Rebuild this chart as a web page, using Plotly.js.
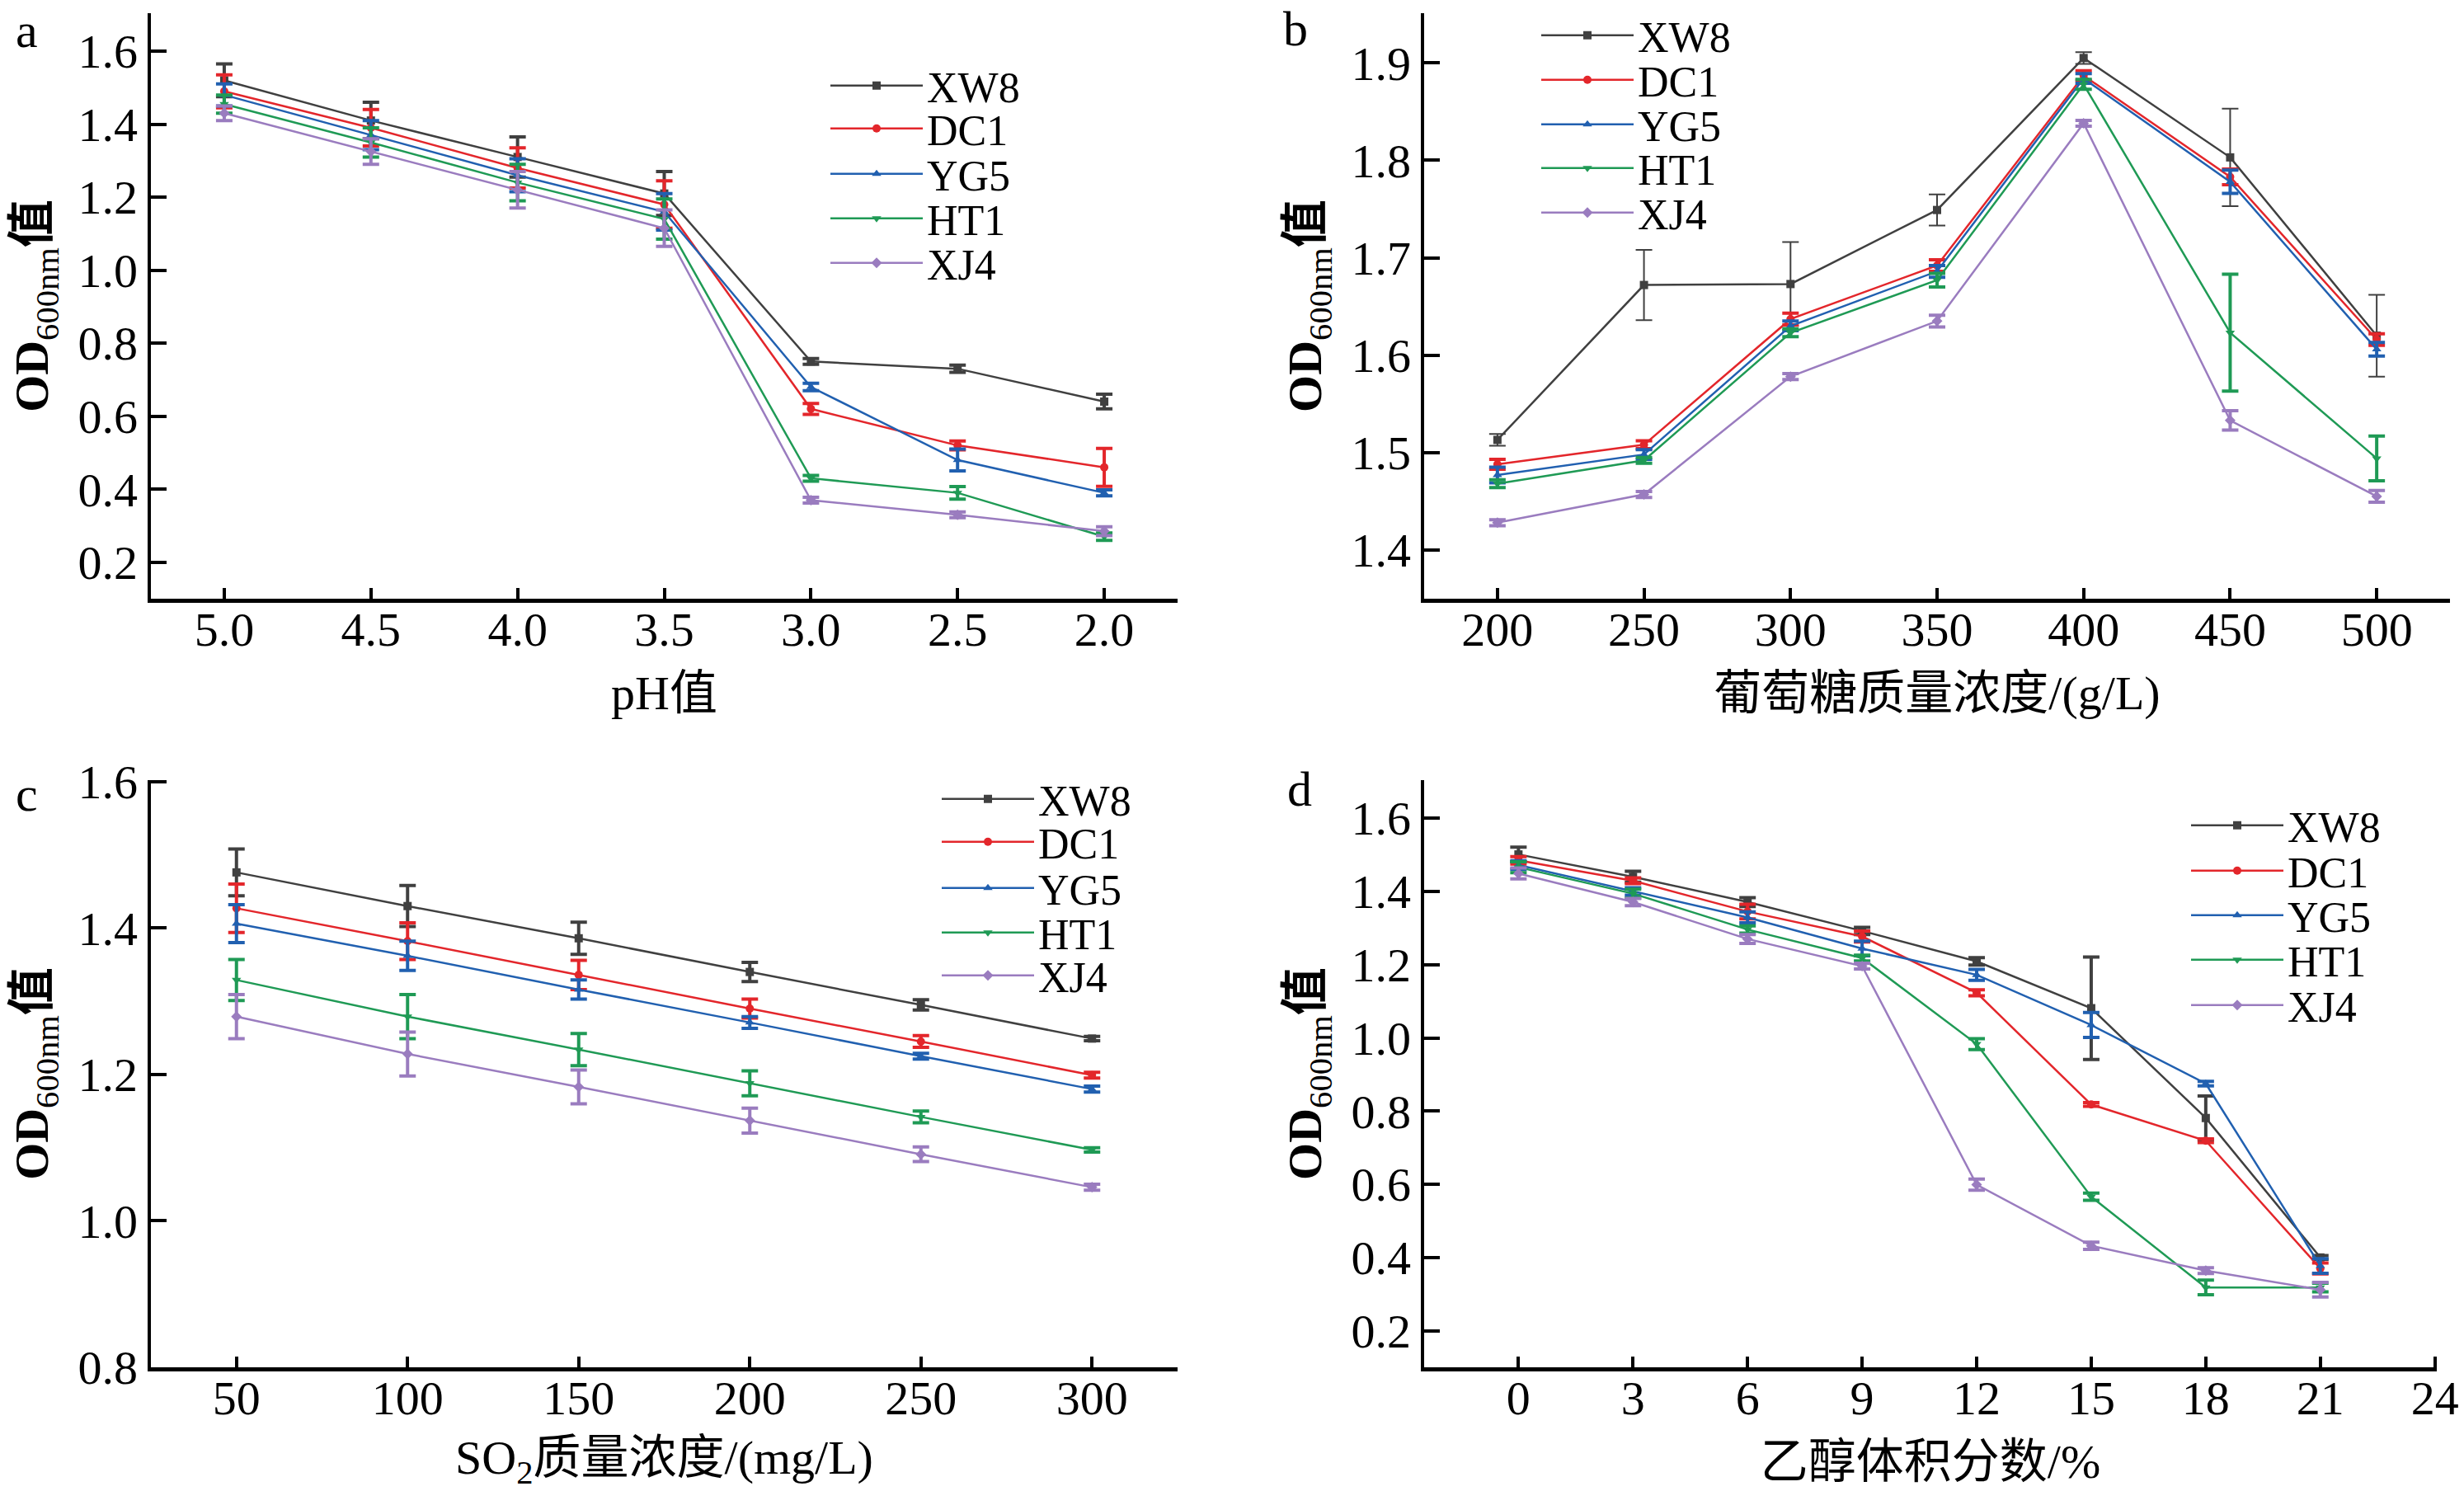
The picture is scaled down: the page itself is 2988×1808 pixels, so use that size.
<!DOCTYPE html>
<html>
<head>
<meta charset="utf-8">
<script src="https://cdn.plot.ly/plotly-3.0.1.min.js"></script>
<style>body{margin:0;background:#fff}#graphe{width:2988px;height:1808px}</style>
</head>
<body>
<div id="graphe"></div>
<script>
let souches = ["XW8", "DC1", "YG5", "HT1", "XJ4"]
let couleurs = ["#404040", "#e3262b", "#2160b0", "#1f9a55", "#9a7cbf"]
let symboles = ["square", "circle", "triangle-up", "triangle-down", "diamond"]

// a : pH
let ph = [5.0, 4.5, 4.0, 3.5, 3.0, 2.5, 2.0]
let ph_XW8 = [1.52, 1.41, 1.31, 1.21, 0.75, 0.73, 0.64]
let ph_DC1 = [1.49, 1.39, 1.28, 1.18, 0.62, 0.52, 0.46]
let ph_YG5 = [1.48, 1.37, 1.26, 1.16, 0.68, 0.48, 0.39]
let ph_HT1 = [1.455, 1.35, 1.24, 1.14, 0.43, 0.39, 0.27]
let ph_XJ4 = [1.43, 1.325, 1.22, 1.115, 0.37, 0.33, 0.285]
let ph_err_XW8 = [0.045, 0.05, 0.055, 0.06, 0.008, 0.01, 0.02]
let ph_err_DC1 = [0.045, 0.05, 0.055, 0.065, 0.015, 0.012, 0.052]
let ph_err_YG5 = [0.03, 0.04, 0.045, 0.05, 0.01, 0.03, 0.008]
let ph_err_HT1 = [0.025, 0.04, 0.05, 0.055, 0.008, 0.017, 0.01]
let ph_err_XJ4 = [0.02, 0.035, 0.05, 0.05, 0.008, 0.008, 0.012]

// b : glucose (g/L)
let glucose = [200, 250, 300, 350, 400, 450, 500]
let glu_XW8 = [1.513, 1.672, 1.673, 1.749, 1.905, 1.803, 1.62]
let glu_DC1 = [1.488, 1.508, 1.637, 1.692, 1.887, 1.783, 1.616]
let glu_YG5 = [1.477, 1.498, 1.63, 1.686, 1.884, 1.778, 1.606]
let glu_HT1 = [1.468, 1.492, 1.623, 1.677, 1.878, 1.623, 1.494]
let glu_XJ4 = [1.428, 1.457, 1.578, 1.635, 1.838, 1.533, 1.455]
let glu_err_XW8 = [0.006, 0.036, 0.043, 0.016, 0.006, 0.05, 0.042]
let glu_err_DC1 = [0.005, 0.004, 0.006, 0.006, 0.005, 0.008, 0.006]
let glu_err_YG5 = [0.008, 0.005, 0.005, 0.006, 0.005, 0.012, 0.007]
let glu_err_HT1 = [0.004, 0.003, 0.004, 0.007, 0.005, 0.06, 0.023]
let glu_err_XJ4 = [0.003, 0.003, 0.003, 0.006, 0.003, 0.01, 0.006]

// c : SO2 (mg/L)
let so2 = [50, 100, 150, 200, 250, 300]
let so2_XW8 = [1.476, 1.430, 1.386, 1.340, 1.295, 1.249]
let so2_DC1 = [1.427, 1.382, 1.336, 1.290, 1.245, 1.199]
let so2_YG5 = [1.406, 1.362, 1.316, 1.271, 1.225, 1.180]
let so2_HT1 = [1.329, 1.279, 1.234, 1.188, 1.142, 1.097]
let so2_XJ4 = [1.279, 1.228, 1.183, 1.137, 1.091, 1.046]
let so2_err_XW8 = [0.032, 0.028, 0.022, 0.013, 0.007, 0.003]
let so2_err_DC1 = [0.033, 0.025, 0.02, 0.013, 0.008, 0.004]
let so2_err_YG5 = [0.026, 0.02, 0.013, 0.008, 0.004, 0.004]
let so2_err_HT1 = [0.028, 0.03, 0.022, 0.017, 0.008, 0.003]
let so2_err_XJ4 = [0.03, 0.03, 0.023, 0.017, 0.01, 0.004]

// d : ethanol (%)
let ethanol = [0, 3, 6, 9, 12, 15, 18, 21]
let eth_XW8 = [1.501, 1.44, 1.371, 1.292, 1.209, 1.081, 0.781, 0.40]
let eth_DC1 = [1.485, 1.429, 1.345, 1.277, 1.123, 0.818, 0.719, 0.37]
let eth_YG5 = [1.472, 1.40, 1.329, 1.244, 1.172, 1.035, 0.875, 0.377]
let eth_HT1 = [1.466, 1.394, 1.296, 1.218, 0.983, 0.566, 0.318, 0.318]
let eth_XJ4 = [1.449, 1.371, 1.27, 1.196, 0.599, 0.432, 0.364, 0.312]
let eth_err_XW8 = [0.02, 0.015, 0.012, 0.01, 0.01, 0.14, 0.06, 0.005]
let eth_err_DC1 = [0.01, 0.008, 0.02, 0.015, 0.008, 0.005, 0.005, 0.015]
let eth_err_YG5 = [0.012, 0.01, 0.015, 0.02, 0.015, 0.034, 0.006, 0.02]
let eth_err_HT1 = [0.015, 0.012, 0.01, 0.008, 0.015, 0.01, 0.02, 0.012]
let eth_err_XJ4 = [0.015, 0.01, 0.012, 0.008, 0.015, 0.01, 0.008, 0.02]

let police = "'Liberation Serif', 'Noto Sans CJK SC', serif"
let W = 2988
let H = 1808

function px_x(p){ return p/W }
function px_y(p){ return 1 - p/H }

// une légende par courbe, pour placer chaque ligne comme sur la figure
let layout_legendes = {}
let n_legende = 0

function legende(x, y){
    n_legende++
    let nom = n_legende == 1 ? "legend" : "legend" + n_legende
    layout_legendes[nom] = {x: px_x(x), y: px_y(y), xanchor: "left", yanchor: "middle",
        bgcolor: "rgba(0,0,0,0)", itemwidth: 112,
        font: {family: police, size: 52, color: "black"}}
    return nom
}

function tracer_panneau(data, x, series, erreurs, suffixe, x_leg, y_leg, epaisseurs){
    for (let i = 0; i < souches.length; i++){
        data.push({
            x: x, y: series[i], type: "scatter", mode: "lines+markers",
            name: souches[i], legend: legende(x_leg, y_leg[i]),
            xaxis: "x" + suffixe, yaxis: "y" + suffixe,
            line: {color: couleurs[i], width: 2.5},
            marker: {symbol: symboles[i], size: 10, color: couleurs[i]},
            error_y: {type: "data", array: erreurs[i], visible: true,
                color: couleurs[i], thickness: epaisseurs ? epaisseurs[i] : 4, width: 10}
        })
    }
}

function axe_x(domaine, range, ancre, extra){
    return Object.assign({
        domain: domaine, range: range, anchor: ancre,
        showline: true, linecolor: "black", linewidth: 4.5,
        ticks: "inside", ticklen: 13, tickwidth: 4, tickcolor: "black",
        showgrid: false, zeroline: false, ticklabelstandoff: -17,
        ticklabeloverflow: "allow",
        tickfont: {family: police, size: 58, color: "black"},
    }, extra)
}

function axe_y(domaine, range, ancre, extra){
    return Object.assign({
        domain: domaine, range: range, anchor: ancre,
        showline: true, linecolor: "black", linewidth: 4.5,
        ticks: "inside", ticklen: 19, tickwidth: 4, tickcolor: "black",
        showgrid: false, zeroline: false, ticklabelstandoff: 0,
        tickfont: {family: police, size: 58, color: "black"},
        title: {text: "<b>OD</b><sub>600nm</sub><b>值</b>", standoff: 18,
            font: {family: police, size: 58, color: "black"}}
    }, extra)
}

function titre_x(texte){
    return {text: texte, standoff: 26, font: {family: police, size: 58, color: "black"}}
}

let data = []
tracer_panneau(data, ph, [ph_XW8, ph_DC1, ph_YG5, ph_HT1, ph_XJ4],
    [ph_err_XW8, ph_err_DC1, ph_err_YG5, ph_err_HT1, ph_err_XJ4], "",
    1002, [104, 156, 211, 265, 319])
tracer_panneau(data, glucose, [glu_XW8, glu_DC1, glu_YG5, glu_HT1, glu_XJ4],
    [glu_err_XW8, glu_err_DC1, glu_err_YG5, glu_err_HT1, glu_err_XJ4], "2",
    1864, [43, 97, 151, 204, 258], [2, 4, 4, 4, 4])
tracer_panneau(data, so2, [so2_XW8, so2_DC1, so2_YG5, so2_HT1, so2_XJ4],
    [so2_err_XW8, so2_err_DC1, so2_err_YG5, so2_err_HT1, so2_err_XJ4], "3",
    1137, [969, 1021, 1077, 1131, 1183])
tracer_panneau(data, ethanol, [eth_XW8, eth_DC1, eth_YG5, eth_HT1, eth_XJ4],
    [eth_err_XW8, eth_err_DC1, eth_err_YG5, eth_err_HT1, eth_err_XJ4], "4",
    2652, [1001, 1056, 1110, 1164, 1219])

let dom_x_g = [px_x(183), px_x(1428)]
let dom_x_b = [px_x(1727), px_x(2971)]
let dom_x_d = [px_x(1727), px_x(2955)]
let dom_y_h = [px_y(726), px_y(16)]
let dom_y_b = [px_y(1658), px_y(946)]

let lettres = [["a", 17, 2], ["b", 1554, 0], ["c", 17, 928], ["d", 1559, 922]]
let annotations = lettres.map(l => ({
    text: l[0], xref: "paper", yref: "paper", x: px_x(l[1]), y: px_y(l[2]),
    xanchor: "left", yanchor: "top", showarrow: false,
    font: {family: police, size: 60, color: "black"}
}))

let layout = Object.assign({
    width: W, height: H,
    margin: {l: 0, r: 0, t: 0, b: 0},
    paper_bgcolor: "white", plot_bgcolor: "white",
    showlegend: true,
    xaxis: axe_x(dom_x_g, [5.25, 1.75], "y", {tickvals: ph, tickformat: ".1f", title: titre_x("pH值")}),
    yaxis: axe_y(dom_y_h, [0.1, 1.704], "x", {dtick: 0.2, tick0: 0, tickformat: ".1f"}),
    xaxis2: axe_x(dom_x_b, [175, 525], "y2", {tickvals: glucose, title: titre_x("葡萄糖质量浓度/(g/L)")}),
    yaxis2: axe_y(dom_y_h, [1.35, 1.951], "x2", {dtick: 0.1, tick0: 0, tickformat: ".1f"}),
    xaxis3: axe_x(dom_x_g, [25, 325], "y3", {tickvals: so2, title: titre_x("SO<sub>2</sub>质量浓度/(mg/L)")}),
    yaxis3: axe_y(dom_y_b, [0.8, 1.602], "x3", {dtick: 0.2, tick0: 0, tickformat: ".1f"}),
    xaxis4: axe_x(dom_x_d, [-2.47, 24.05], "y4", {dtick: 3, tick0: 0, title: titre_x("乙醇体积分数/%")}),
    yaxis4: axe_y(dom_y_b, [0.1, 1.704], "x4", {dtick: 0.2, tick0: 0, tickformat: ".1f"}),
    annotations: annotations
}, layout_legendes)

Plotly.newPlot("graphe", data, layout, {staticPlot: true})
</script>
</body>
</html>
